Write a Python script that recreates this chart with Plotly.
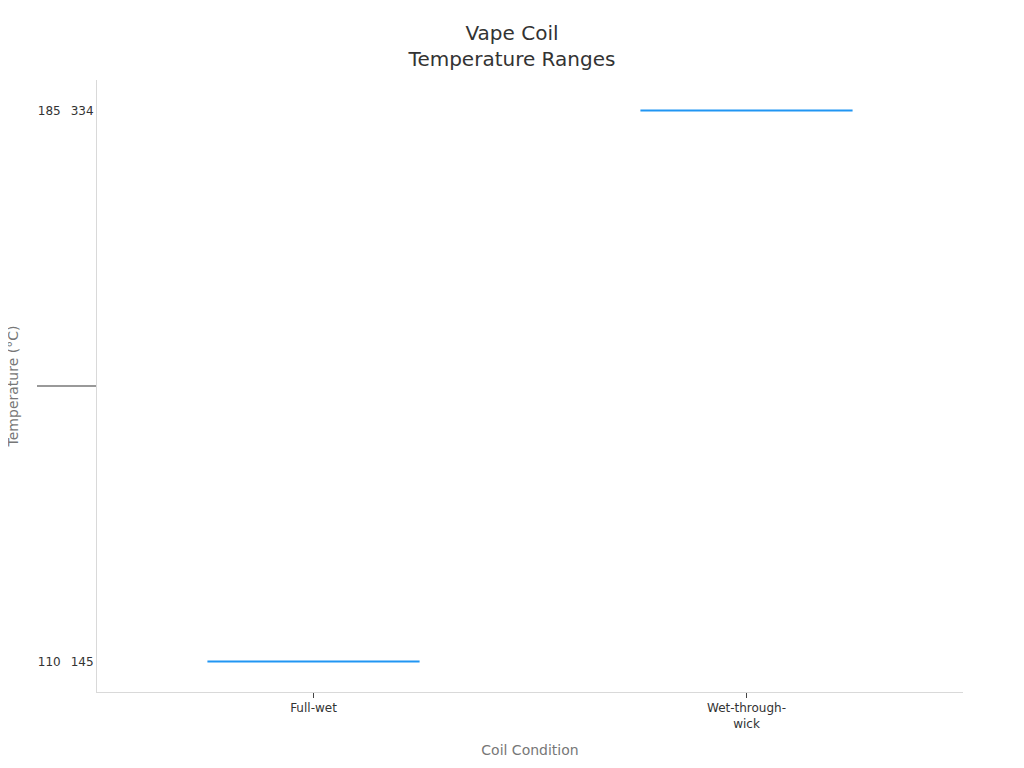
import plotly.graph_objects as go

conditions = ["Full-wet", "Wet-through-<br>wick"]
temp_low = ["110", "185"]
temp_high = ["145", "334"]

fig = go.Figure()
fig.add_trace(go.Box(
    x=conditions,
    y=[temp_low, temp_high],
    line=dict(color="#2196F3", width=2),
    fillcolor="rgba(33,150,243,0.3)",
    boxpoints=False,
    showlegend=False,
))

fig.update_layout(
    autosize=True,
    paper_bgcolor="white", plot_bgcolor="white",
    font=dict(family="DejaVu Sans", color="#333", size=12),
    title=dict(text="Vape Coil<br>Temperature Ranges", x=0.5, xanchor="center",
               y=0.957, yanchor="middle", font=dict(size=20, color="#333")),
    margin=dict(l=89, r=53, t=72, b=68),
    xaxis=dict(
        title=dict(text="Coil Condition", font=dict(size=14, color="#777")),
        automargin=False,
        showline=True, linecolor="#d9d9d9", linewidth=1,
        showgrid=False, zeroline=False,
        ticks="outside", ticklen=5, tickcolor="#444",
        tickfont=dict(size=12, color="#333"),
    ),
    yaxis=dict(
        title=dict(text="Temperature (°C)", font=dict(size=14, color="#777")),
        automargin=False,
        showline=True, linecolor="#d9d9d9", linewidth=1,
        showgrid=False, zeroline=False,
        ticks="", showdividers=True, dividercolor="#999", dividerwidth=2,
        tickfont=dict(size=12, color="#333"),
    ),
)

fig.write_html("out.html")
